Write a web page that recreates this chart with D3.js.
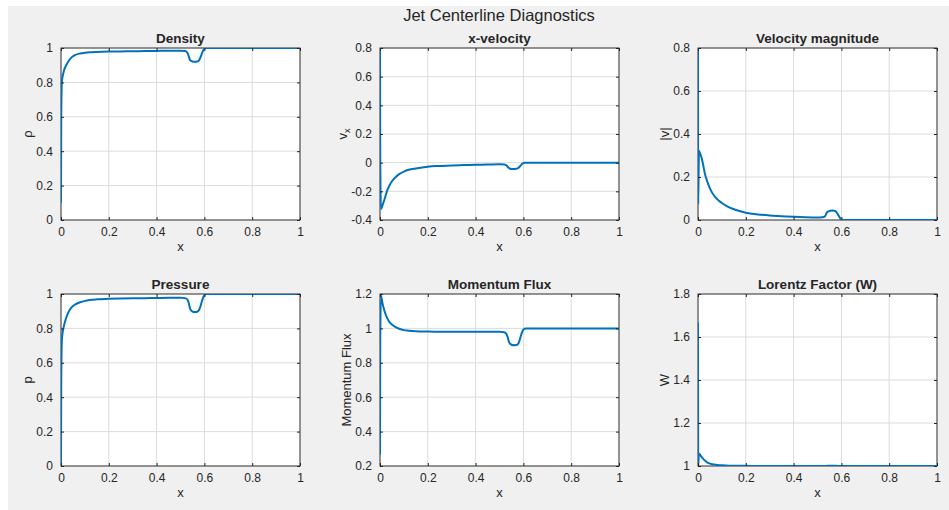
<!DOCTYPE html>
<html>
<head>
<meta charset="utf-8">
<script src="https://cdn.jsdelivr.net/npm/d3@7"></script>
<style>
  body { margin: 0; background: #ffffff; }
  svg text { font-family: "Liberation Sans", Arial, sans-serif; fill: #262626; }
</style>
</head>
<body>
<svg></svg>
<script>
// centerline samples (x positions shared by every panel)
var xs = [0, 0.001, 0.004, 0.01, 0.015, 0.02, 0.03, 0.04, 0.05, 0.06, 0.08, 0.1, 0.12, 0.15, 0.2, 0.25, 0.3, 0.35, 0.4, 0.45, 0.5,
          0.52, 0.53, 0.535, 0.54, 0.55, 0.56, 0.57, 0.575, 0.58, 0.585, 0.59, 0.595, 0.6, 0.605, 0.61, 0.62, 0.7, 0.8, 0.9, 1.0]

var density = [0.10, 0.60, 0.81, 0.855, 0.88, 0.895, 0.92, 0.94, 0.952, 0.96, 0.968, 0.972, 0.975, 0.977, 0.979, 0.98, 0.981, 0.982, 0.983, 0.984, 0.984,
               0.982, 0.97, 0.95, 0.93, 0.922, 0.92, 0.922, 0.925, 0.935, 0.95, 0.97, 0.985, 0.995, 1.0, 1.0, 1.0, 1.0, 1.0, 1.0, 1.0]

var vx = [0.8, 0.07, -0.325, -0.30, -0.275, -0.25, -0.195, -0.158, -0.13, -0.11, -0.08, -0.062, -0.05, -0.04, -0.028, -0.023, -0.019, -0.017, -0.015, -0.013, -0.011,
          -0.012, -0.02, -0.03, -0.038, -0.044, -0.045, -0.043, -0.04, -0.035, -0.027, -0.017, -0.008, -0.003, 0, 0, 0, 0, 0, 0, 0]

var vmag = [0.8, 0.075, 0.322, 0.305, 0.29, 0.265, 0.21, 0.175, 0.147, 0.125, 0.097, 0.079, 0.065, 0.05, 0.034, 0.026, 0.021, 0.018, 0.015, 0.013, 0.012,
            0.013, 0.016, 0.025, 0.036, 0.042, 0.044, 0.043, 0.041, 0.036, 0.027, 0.017, 0.008, 0.003, 0, 0, 0, 0, 0, 0, 0]

var pressure = [0.0, 0.5, 0.74, 0.80, 0.83, 0.855, 0.89, 0.915, 0.93, 0.94, 0.952, 0.96, 0.965, 0.969, 0.972, 0.974, 0.975, 0.976, 0.977, 0.978, 0.978,
                0.976, 0.965, 0.945, 0.915, 0.898, 0.895, 0.897, 0.902, 0.915, 0.935, 0.96, 0.98, 0.993, 1.0, 1.0, 1.0, 1.0, 1.0, 1.0, 1.0]

var momFlux = [0.265, 0.9, 1.19, 1.15, 1.12, 1.095, 1.06, 1.037, 1.022, 1.012, 0.998, 0.99, 0.987, 0.984, 0.982, 0.981, 0.981, 0.98, 0.98, 0.98, 0.98,
               0.978, 0.965, 0.945, 0.92, 0.905, 0.902, 0.903, 0.906, 0.915, 0.935, 0.96, 0.98, 0.993, 0.998, 1.0, 1.0, 1.0, 1.0, 1.0, 1.0]

var lorentz = [1.667, 1.003, 1.058, 1.05, 1.042, 1.035, 1.024, 1.016, 1.011, 1.008, 1.005, 1.003, 1.002, 1.001, 1.001, 1.0, 1.0, 1.0, 1.0, 1.0, 1.0,
               1.0, 1.0, 1.0, 1.001, 1.001, 1.001, 1.001, 1.001, 1.001, 1.0, 1.0, 1.0, 1.0, 1.0, 1.0, 1.0, 1.0, 1.0, 1.0, 1.0]

var xTicks = [0, 0.2, 0.4, 0.6, 0.8, 1]
var rhoTicks = [0, 0.2, 0.4, 0.6, 0.8, 1]
var vxTicks = [-0.4, -0.2, 0, 0.2, 0.4, 0.6, 0.8]
var vmagTicks = [0, 0.2, 0.4, 0.6, 0.8]
var pTicks = [0, 0.2, 0.4, 0.6, 0.8, 1]
var fluxTicks = [0.2, 0.4, 0.6, 0.8, 1, 1.2]
var wTicks = [1, 1.2, 1.4, 1.6, 1.8]

var panels = [
  {title: "Density", ylab: "ρ", y: density, dom: [0, 1], ticks: rhoTicks, col: 0, row: 0},
  {title: "x-velocity", ylab: "vx", y: vx, dom: [-0.4, 0.8], ticks: vxTicks, col: 1, row: 0},
  {title: "Velocity magnitude", ylab: "|v|", y: vmag, dom: [0, 0.8], ticks: vmagTicks, col: 2, row: 0},
  {title: "Pressure", ylab: "p", y: pressure, dom: [0, 1], ticks: pTicks, col: 0, row: 1},
  {title: "Momentum Flux", ylab: "Momentum Flux", y: momFlux, dom: [0.2, 1.2], ticks: fluxTicks, col: 1, row: 1},
  {title: "Lorentz Factor (W)", ylab: "W", y: lorentz, dom: [1, 1.8], ticks: wTicks, col: 2, row: 1}
]

var screen = {width: 949, height: 510}
var lefts = [61, 380, 698]
var tops = [48, 294]
var w = 239, h = 172
var fmt = function(d){ return String(+d.toFixed(2)) }

var svg = d3.select("svg")
            .attr("width", screen.width)
            .attr("height", screen.height)

svg.append("rect")
   .attr("x", 8).attr("y", 6)
   .attr("width", screen.width - 8).attr("height", screen.height - 6)
   .attr("fill", "#f0f0f0")

svg.append("text")
   .attr("x", 499).attr("y", 21)
   .attr("text-anchor", "middle")
   .style("font-size", "16.5px")
   .text("Jet Centerline Diagnostics")

panels.forEach(function(p, i){
  var left = lefts[p.col], top = tops[p.row]

  var xScale = d3.scaleLinear().domain([0, 1]).range([0, w])
  var yScale = d3.scaleLinear().domain(p.dom).range([h, 0])

  var g = svg.append("g").attr("transform", "translate(" + left + "," + top + ")")

  g.append("rect").attr("width", w).attr("height", h).attr("fill", "white")

  // grid
  g.selectAll(".vgrid").data(xTicks).enter().append("line")
   .attr("x1", function(d){ return xScale(d) }).attr("x2", function(d){ return xScale(d) })
   .attr("y1", 0).attr("y2", h)
   .attr("stroke", "#dcdcdc").attr("stroke-width", 1)
  g.selectAll(".hgrid").data(p.ticks).enter().append("line")
   .attr("y1", function(d){ return yScale(d) }).attr("y2", function(d){ return yScale(d) })
   .attr("x1", 0).attr("x2", w)
   .attr("stroke", "#dcdcdc").attr("stroke-width", 1)

  // box
  g.append("rect").attr("width", w).attr("height", h)
   .attr("fill", "none").attr("stroke", "#262626").attr("stroke-width", 0.9)

  g.append("clipPath").attr("id", "clip" + i)
   .append("rect").attr("width", w).attr("height", h)

  var line = d3.line()
               .x(function(d, j){ return xScale(xs[j]) })
               .y(function(d){ return yScale(d) })
               .curve(d3.curveMonotoneX)

  g.append("path")
   .datum(p.y)
   .attr("clip-path", "url(#clip" + i + ")")
   .attr("d", line)
   .attr("fill", "none")
   .attr("stroke", "#0072bd")
   .attr("stroke-width", 2)

  // axes, ticks pointing inward
  var yAxis = g.append("g").call(d3.axisLeft(yScale).tickValues(p.ticks).tickFormat(fmt).tickSize(-3).tickPadding(8))
  var xAxis = g.append("g").attr("transform", "translate(0," + h + ")")
               .call(d3.axisBottom(xScale).tickValues(xTicks).tickFormat(fmt).tickSize(-3).tickPadding(5))
  g.append("g").attr("transform", "translate(" + w + ",0)")
   .call(d3.axisRight(yScale).tickValues(p.ticks).tickFormat("").tickSize(-3))
  g.append("g")
   .call(d3.axisTop(xScale).tickValues(xTicks).tickFormat("").tickSize(-3))

  g.selectAll(".domain").remove()
  g.selectAll(".tick line").attr("stroke", "#262626")
  g.selectAll(".tick text").style("font-size", "12px").attr("fill", "#262626")
  xAxis.selectAll(".tick text").attr("dy", "0.95em")

  var maxW = 0
  yAxis.selectAll(".tick text").each(function(){ maxW = Math.max(maxW, this.getComputedTextLength()) })

  g.append("text")
   .attr("x", w / 2).attr("y", -5)
   .attr("text-anchor", "middle")
   .style("font-size", "13.5px").style("font-weight", "bold")
   .attr("fill", "#1a1a1a")
   .text(p.title)

  g.append("text")
   .attr("x", w / 2).attr("y", h + 31)
   .attr("text-anchor", "middle")
   .style("font-size", "13px")
   .text("x")

  var yl = g.append("text")
            .attr("transform", "translate(" + (-maxW - 12) + "," + (h / 2) + ") rotate(-90)")
            .attr("text-anchor", "middle")
            .style("font-size", "13px")
  if (p.ylab == "vx") {
    yl.append("tspan").text("v")
    yl.append("tspan").attr("dy", 3).style("font-size", "9px").text("x")
  } else {
    yl.text(p.ylab)
  }
})
</script>
</body>
</html>
